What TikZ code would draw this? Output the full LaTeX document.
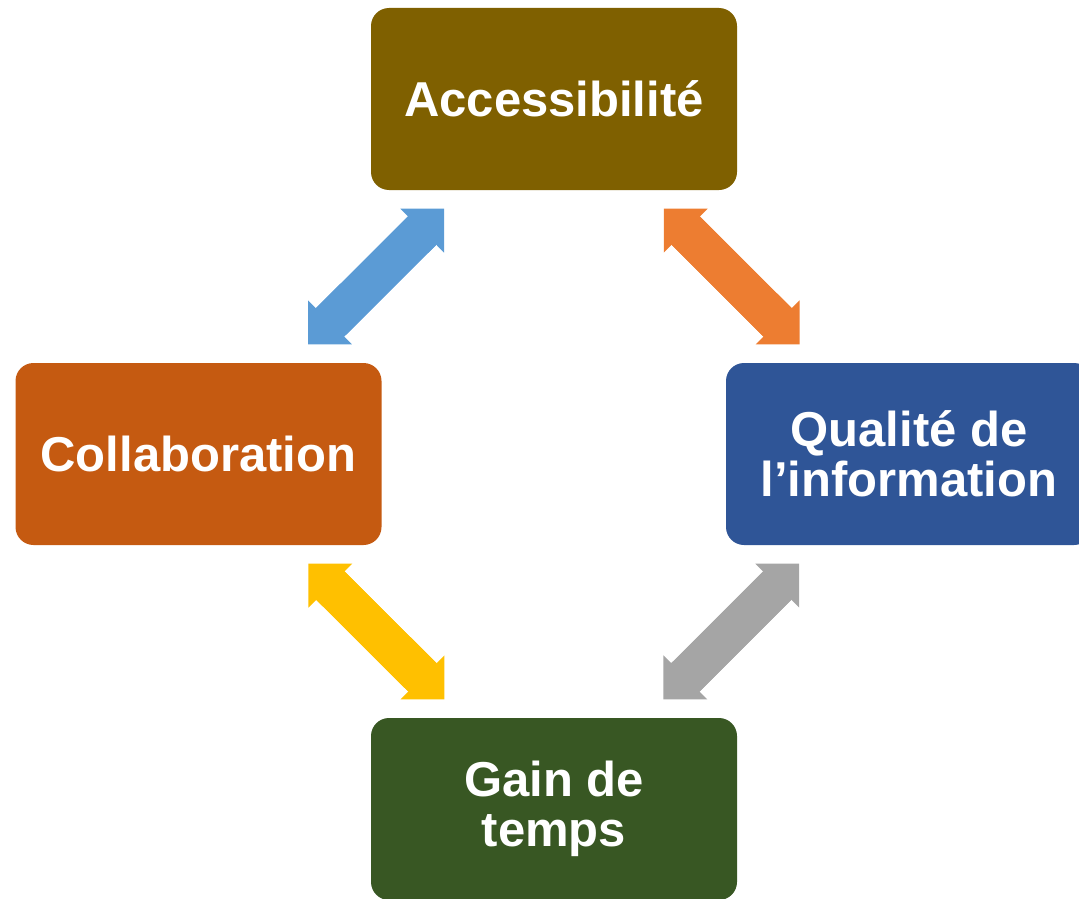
\documentclass[tikz,border=0pt]{standalone}
\usepackage{fontspec}
\setmainfont{Liberation Sans}
\usetikzlibrary{arrows.meta,positioning}
\definecolor{accbrown}{HTML}{7F6000}
\definecolor{colorange}{HTML}{C55A11}
\definecolor{qualblue}{HTML}{2F5597}
\definecolor{gaingreen}{HTML}{385723}
\definecolor{arrowblue}{HTML}{5B9BD5}
\definecolor{arroworange}{HTML}{ED7D31}
\definecolor{arrowyellow}{HTML}{FFC000}
\definecolor{arrowgray}{HTML}{A5A5A5}
\tikzset{
    every node/.style={color=white, font=\fontsize{49}{50}\selectfont\bfseries}
}
\begin{document}
\begin{tikzpicture}[
        x=1pt, y=-1pt,
        box/.style={rectangle, rounded corners=18pt, minimum width=366pt, minimum height=182pt,
            inner sep=0pt, outer sep=0pt, align=center},
        link/.style={line width=40pt,
            {Triangle[length=31pt, width=62pt, line width=0pt]}-{Triangle[length=31pt, width=62pt, line width=0pt]},
            shorten <=26.5pt, shorten >=26.5pt,
            postaction={draw, -, shorten <=54pt, shorten >=54pt}}
    ]
    \useasboundingbox (0,0) rectangle (1079,899);

    % Nodes
    \node[box, fill=accbrown]  (acc)  at (554,99)    {Accessibilité};
    \node[box, fill=colorange] (col)  at (198.5,454) {Collaboration};
    \node[box, fill=qualblue]  (qual) at (909,454)   {Qualité de\\l’information};
    \node[box, fill=gaingreen, below=528pt of acc] (gain) {Gain de\\temps};

    % Double arrows between the boxes
    \foreach \a/\b/\c in {acc/col/arrowblue, acc/qual/arroworange, col/gain/arrowyellow, qual/gain/arrowgray}
        \draw[link, draw=\c, fill=\c] (\a) -- (\b);

\end{tikzpicture}
\end{document}
